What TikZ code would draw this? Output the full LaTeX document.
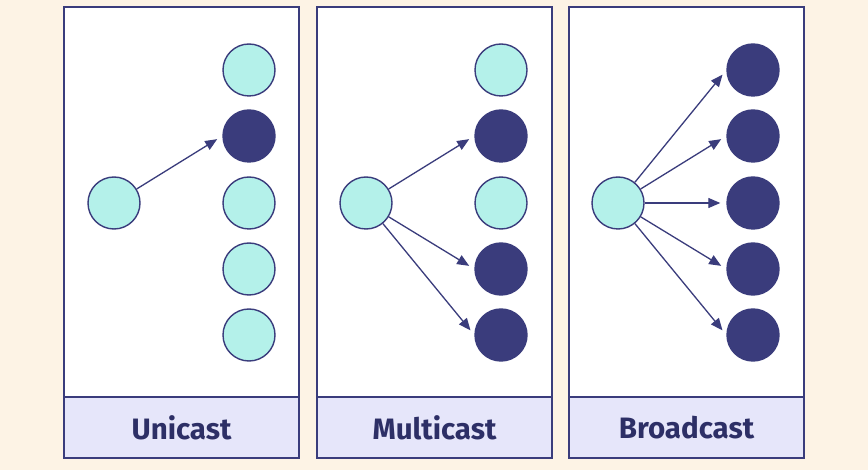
\documentclass[tikz,border=0pt]{standalone}
\usepackage{fontspec}
\setmainfont{Fira Sans}
\usetikzlibrary{arrows.meta}
\definecolor{bgc}{HTML}{FDF3E5}
\definecolor{navy}{HTML}{3A3C7C}
\definecolor{txtc}{HTML}{2D2F66}
\definecolor{lightc}{HTML}{B4F1EA}
\definecolor{bandc}{HTML}{E6E6FA}
\tikzset{
  panel/.style={draw=navy, line width=1.6pt, fill=white},
  band/.style={draw=navy, line width=1.6pt, fill=bandc},
  lbl/.style={font=\fontsize{29.5}{31}\selectfont\bfseries, text=txtc},
  lt/.style={circle, draw=navy, line width=1.4pt, fill=lightc, minimum size=52pt, inner sep=0pt},
  dk/.style={circle, draw=navy, line width=1.4pt, fill=navy, minimum size=52pt, inner sep=0pt},
  arr/.style={draw=navy, line width=1.3pt, -{Triangle[length=12pt,width=10pt]}, shorten >=6pt}
}
\begin{document}
\begin{tikzpicture}[x=1pt,y=-1pt]
\path[fill=bgc] (0,0) rectangle (868,470);
\useasboundingbox (0,0) rectangle (868,470);
% panels
\foreach \x/\n/\t in {64/u/Unicast,317/m/Multicast,569/b/Broadcast}{
  \path[panel] (\x,7) rectangle ++(235,451);
  \path[band] (\x,397) rectangle ++(235,61);
  \node[lbl] (\n lab) at (\x+117.5,428) {\t};
}
% Unicast
\node[lt] (us) at (114,203) {};
\node[lt] (u1) at (249,70) {};
\node[dk] (u2) at (249,136) {};
\node[lt] (u3) at (249,203) {};
\node[lt] (u4) at (249,269) {};
\node[lt] (u5) at (249,335) {};
\draw[arr] (us) -- (u2.west);
% Multicast
\node[lt] (ms) at (366,203) {};
\node[lt] (m1) at (501,70) {};
\node[dk] (m2) at (501,136) {};
\node[lt] (m3) at (501,203) {};
\node[dk] (m4) at (501,269) {};
\node[dk] (m5) at (501,335) {};
\draw[arr] (ms) -- (m2.west);
\draw[arr] (ms) -- (m4.west);
\draw[arr] (ms) -- (m5.west);
% Broadcast
\node[lt] (bs) at (618,203) {};
\node[dk] (b1) at (753,70) {};
\node[dk] (b2) at (753,136) {};
\node[dk] (b3) at (753,203) {};
\node[dk] (b4) at (753,269) {};
\node[dk] (b5) at (753,335) {};
\foreach \i in {1,...,5}{\draw[arr] (bs) -- (b\i.west);}
\end{tikzpicture}
\end{document}
